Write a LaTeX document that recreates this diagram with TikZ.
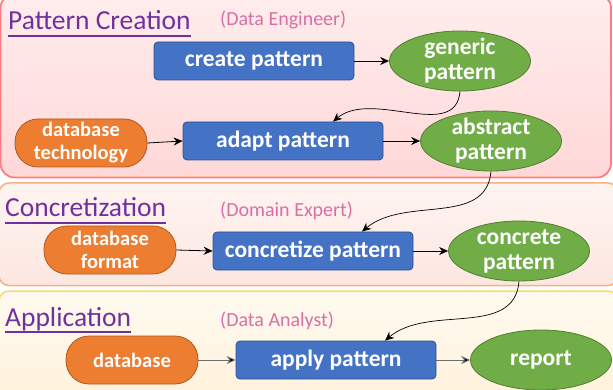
\documentclass[tikz,border=0pt]{standalone}
\usepackage{fontspec}
\setmainfont{Carlito}
\usetikzlibrary{arrows.meta,shapes.geometric}

\definecolor{procfill}{HTML}{4472C4}
\definecolor{procedge}{HTML}{2F528F}
\definecolor{resfill}{HTML}{70AD47}
\definecolor{resedge}{HTML}{507E32}
\definecolor{srcfill}{HTML}{ED7D31}
\definecolor{srcedge}{HTML}{AE5A21}
\definecolor{titlecol}{HTML}{7030A0}
\definecolor{rolecol}{HTML}{DA6FA5}
\definecolor{bandAedge}{HTML}{FF7C80}
\definecolor{bandAtop}{HTML}{FFEDED}
\definecolor{bandAbot}{HTML}{FFD8D8}
\definecolor{bandBedge}{HTML}{F4B183}
\definecolor{bandBtop}{HTML}{FFF4F1}
\definecolor{bandBbot}{HTML}{FCE7E0}
\definecolor{bandCedge}{HTML}{FFD966}
\definecolor{bandCtop}{HTML}{FFFAF0}
\definecolor{bandCbot}{HTML}{FFF2DC}
\definecolor{flowgray}{HTML}{6F6F6F}

\tikzset{
  proc/.style={draw=procedge, fill=procfill, line width=0.8pt, rounded corners=4pt,
    minimum width=200pt, minimum height=38pt, inner sep=0pt, text=white,
    font=\bfseries\fontsize{23.5}{25}\selectfont},
  res/.style={ellipse, draw=resedge, fill=resfill, line width=0.8pt,
    minimum width=141pt, minimum height=60pt, inner xsep=0pt, inner ysep=-2.5pt,
    text=white, align=center, font=\bfseries\fontsize{23.5}{25}\selectfont},
  src/.style={draw=srcedge, fill=srcfill, line width=0.8pt, rounded corners=23pt,
    minimum width=132pt, minimum height=48pt, inner sep=0pt, text=white, align=center,
    font=\bfseries\fontsize{20.5}{23}\selectfont},
  bandtitle/.style={anchor=base west, inner sep=0pt, text=titlecol,
    font=\fontsize{27.5}{30}\selectfont},
  role/.style={anchor=base west, inner sep=0pt, text=rolecol,
    font=\fontsize{20}{22}\selectfont},
  uline/.style={draw=titlecol, line width=1.3pt},
  flow/.style={-{Stealth[length=9pt,width=8pt,inset=3pt]}, line width=0.8pt, black},
  flowlight/.style={flow, draw=flowgray, -{Stealth[length=9pt,width=8pt,inset=3pt,fill=black]}},
}

\begin{document}
\begin{tikzpicture}[x=1pt,y=-1pt]
\useasboundingbox (0,0) rectangle (613,390);
\clip (0,0) rectangle (613,390);

% three horizontal bands
\path[draw=bandAedge, line width=1.8pt, rounded corners=14pt,
  top color=bandAtop, bottom color=bandAbot] (0.5,-6) rectangle (611,177.5);
\path[draw=bandBedge, line width=1.5pt, rounded corners=10pt,
  top color=bandBtop, bottom color=bandBbot] (-1,183) rectangle (618,285.5);
\path[draw=bandCedge, line width=1.5pt, rounded corners=10pt,
  top color=bandCtop, bottom color=bandCbot] (-1,291) rectangle (618,400);

% band headings
\node[bandtitle] (t1) at (8,30) {Pattern Creation};
\draw[uline] ([yshift=-6pt]t1.base west) -- ([yshift=-6pt]t1.base east);
\node[role] (r1) at (220,26) {(Data Engineer)};

\node[bandtitle] (t2) at (5,217) {Concretization};
\draw[uline] ([yshift=-6pt]t2.base west) -- ([yshift=-6pt]t2.base east);
\node[role] (r2) at (220,217) {(Domain Expert)};

\node[bandtitle] (t3) at (5,326) {Application};
\draw[uline] ([yshift=-6pt]t3.base west) -- ([yshift=-6pt]t3.base east);
\node[role] (r3) at (220,326) {(Data Analyst)};

% pattern creation
\node[proc] (create) at (254,61) {create pattern};
\node[res] (generic) at (460,61) {generic\\pattern};
\node[src] (dbtech) at (81,143) {database\\technology};
\node[proc] (adapt) at (283,141) {adapt pattern};
\node[res] (abstract) at (491,141) {abstract\\pattern};

% concretization
\node[src] (dbformat) at (110,250) {database\\format};
\node[proc] (concretize) at (313,251) {concretize pattern};
\node[res] (concrete) at (519,251) {concrete\\pattern};

% application
\node[src] (database) at (132,360) {database};
\node[proc] (apply) at (336,360) {apply pattern};
\node[res] (report) at (541,360) {report};

% flows inside each band
\draw[flow] (create.east) -- (generic.west);
\draw[flow] (dbtech.east) -- (adapt.west);
\draw[flow] (adapt.east) -- (abstract.west);
\draw[flow] (dbformat.east) -- (concretize.west);
\draw[flow] (concretize.east) -- (concrete.west);
\draw[flowlight] (database.east) -- (apply.west);
\draw[flowlight] (apply.east) -- (report.west);

% hand-over between bands
\draw[flow, line width=0.7pt] (generic.south) to[out=-95,in=40] ([xshift=50pt]adapt.north);
\draw[flow, line width=0.7pt] (abstract.south) to[out=-95,in=40] ([xshift=49pt]concretize.north);
\draw[flow, line width=0.7pt] (concrete.south) to[out=-95,in=40] ([xshift=49pt]apply.north);
\end{tikzpicture}
\end{document}
